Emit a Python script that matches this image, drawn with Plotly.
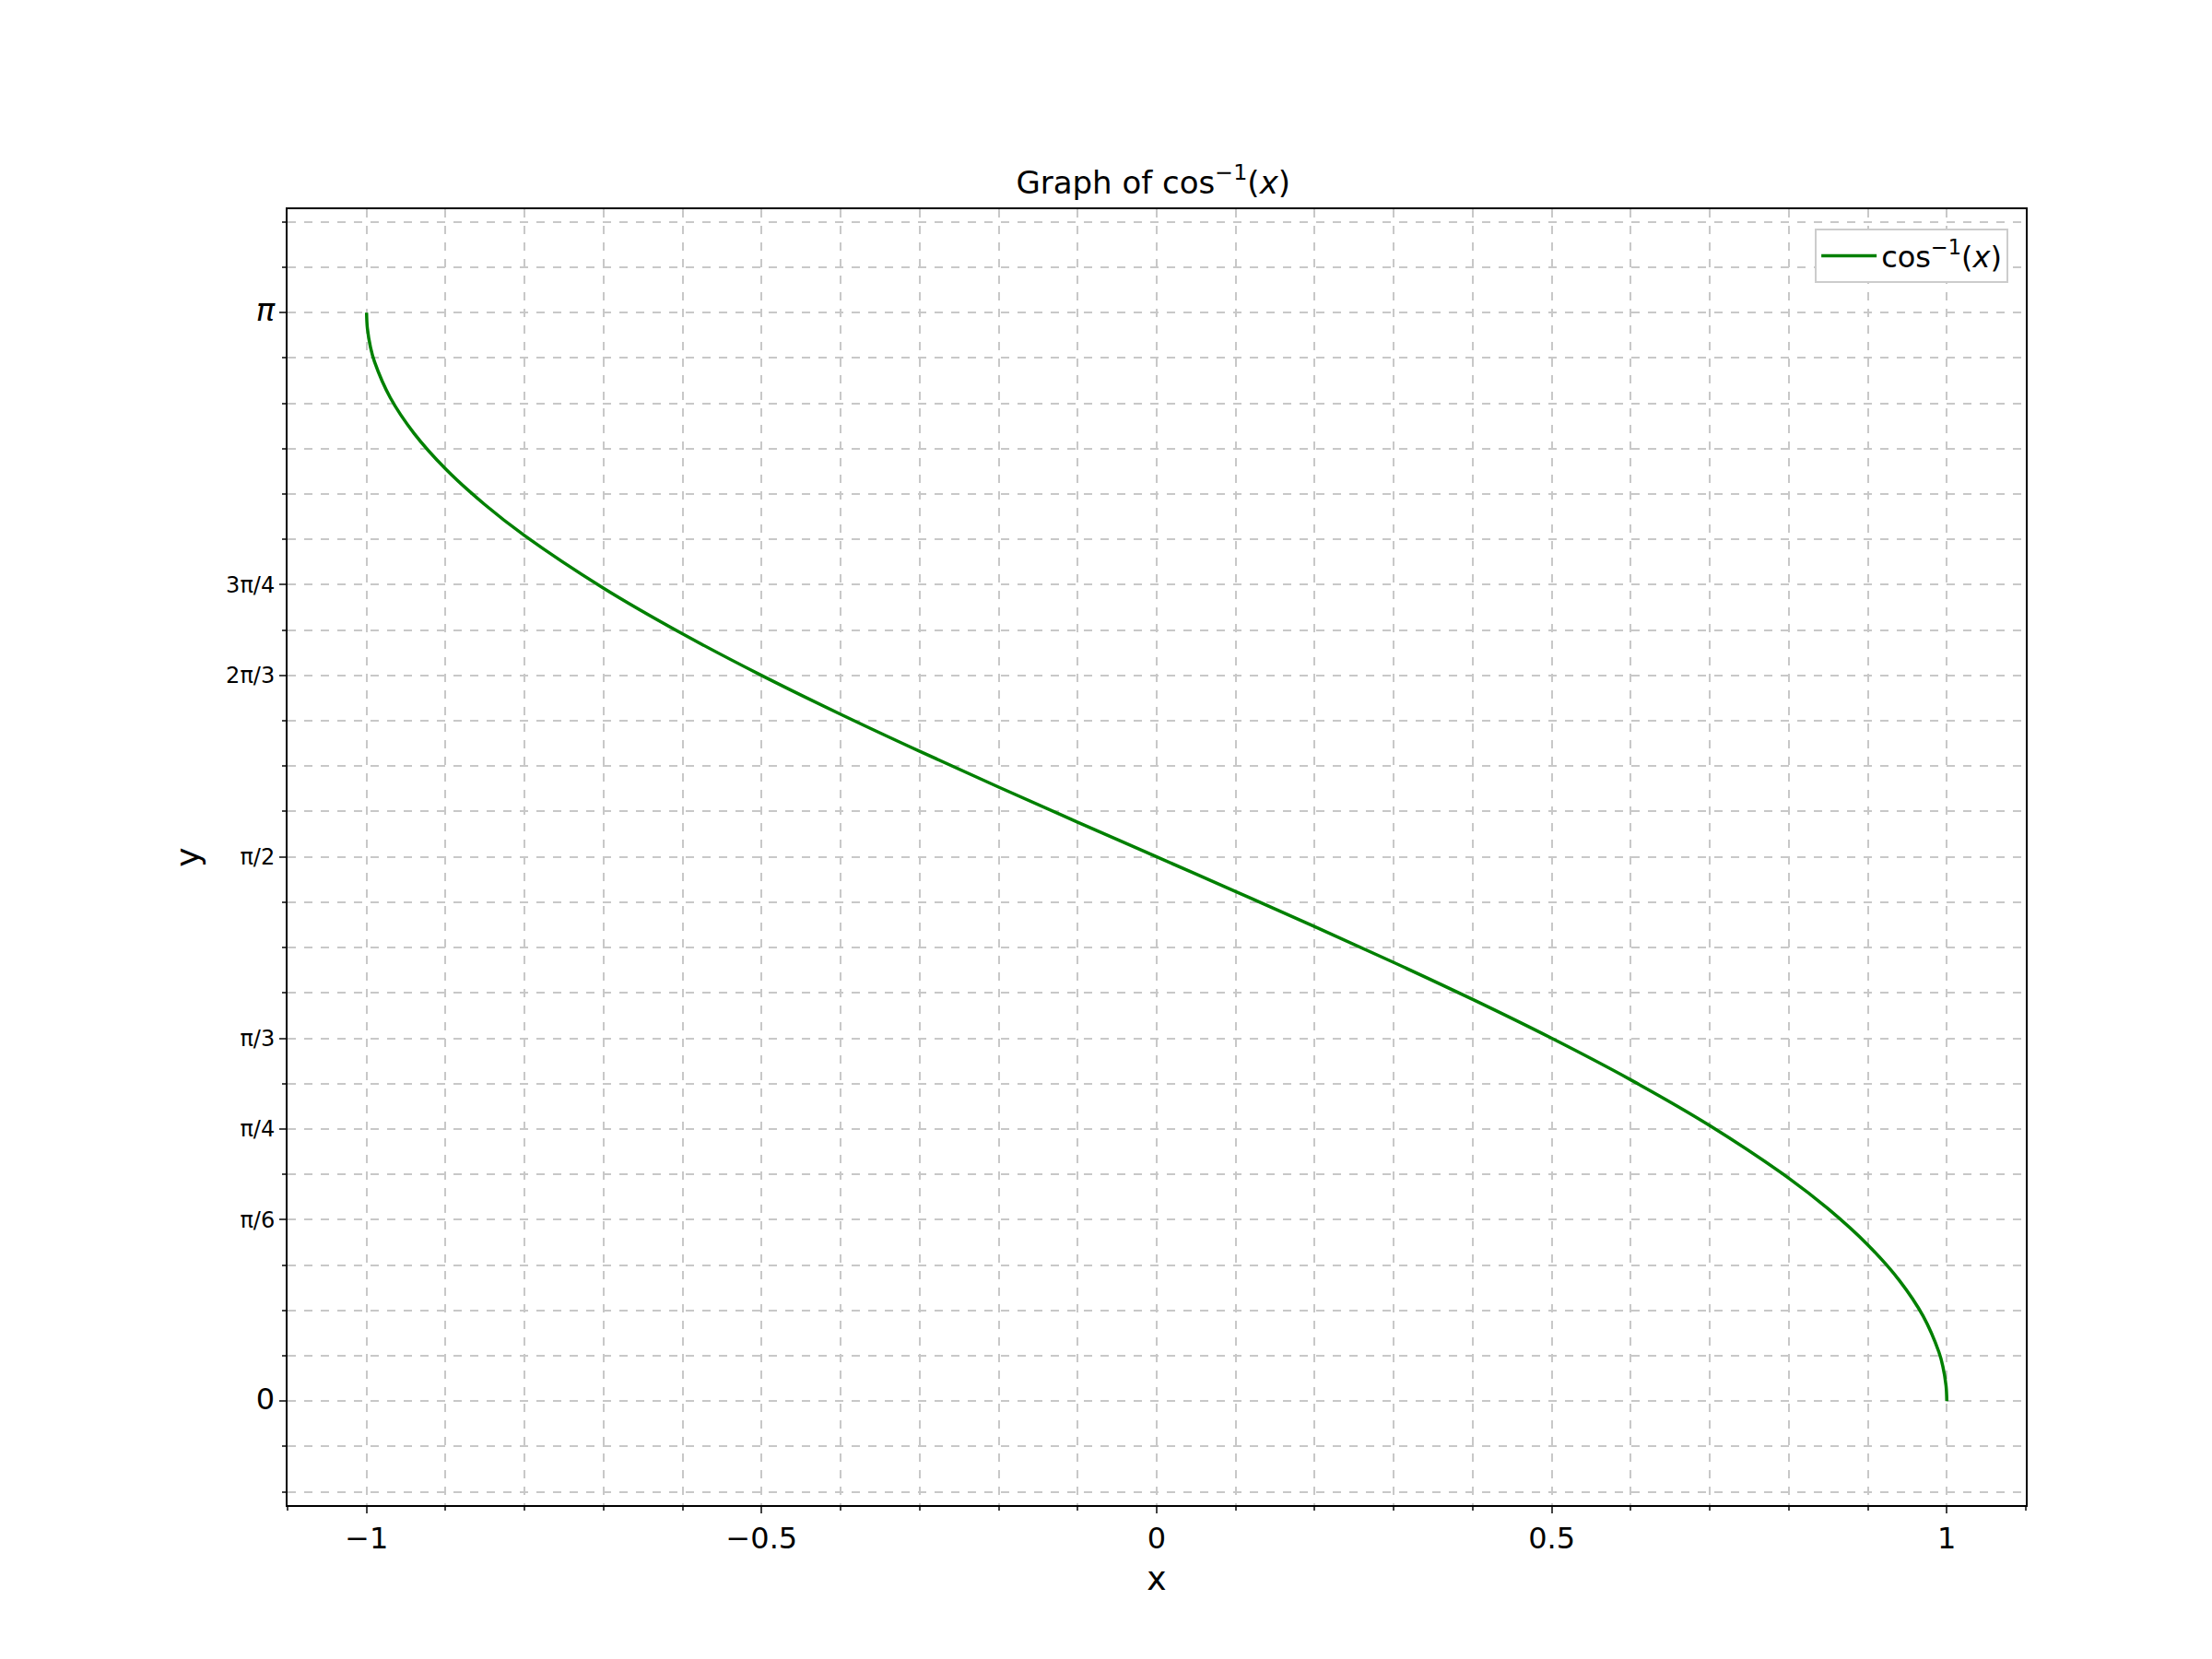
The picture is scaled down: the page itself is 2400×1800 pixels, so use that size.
import plotly.graph_objects as go
import math

x_vals = [-1.0, -0.999, -0.995, -0.99, -0.97, -0.94, -0.9, -0.85, -0.8, -0.7, -0.6, -0.5,
          -0.4, -0.3, -0.2, -0.1, 0.0, 0.1, 0.2, 0.3, 0.4, 0.5, 0.6, 0.7, 0.8, 0.85,
          0.9, 0.94, 0.97, 0.99, 0.995, 0.999, 1.0]
y_vals = [3.1416, 3.0969, 3.0415, 3.0001, 2.8960, 2.7934, 2.6906, 2.5868, 2.4981, 2.3462,
          2.2143, 2.0944, 1.9823, 1.8755, 1.7722, 1.6710, 1.5708, 1.4706, 1.3694, 1.2661,
          1.1593, 1.0472, 0.9273, 0.7954, 0.6435, 0.5548, 0.4510, 0.3482, 0.2456, 0.1415,
          0.1001, 0.0447, 0.0]

pi = math.pi
y_ticks = [0, pi / 6, pi / 4, pi / 3, pi / 2, 2 * pi / 3, 3 * pi / 4, pi]
y_labels = ["<span style='font-size:32px'>0</span>", "π/6", "π/4", "π/3", "π/2", "2π/3", "3π/4",
            "<span style='font-size:34px'><i>π</i></span>"]
x_ticks = [-1, -0.5, 0, 0.5, 1]
x_labels = ["−1", "−0.5", "0", "0.5", "1"]

fig = go.Figure()
fig.add_trace(go.Scatter(x=x_vals, y=y_vals, mode="lines", line=dict(color="green", width=3.5),
                         name="cos<sup>−1</sup>(<i>x</i>)", line_shape="spline"))

grid = dict(showgrid=True, gridcolor="#c8c8c8", griddash="dash", gridwidth=1.5)
fig.update_layout(
    width=2400, height=1800,
    paper_bgcolor="white", plot_bgcolor="white",
    margin=dict(l=304, r=210, t=219, b=175),
    font=dict(family="DejaVu Sans", size=30, color="black"),
    title=dict(text="Graph of cos<sup>−1</sup>(<i>x</i>)", x=0.518, xanchor="center",
               y=0.888, yanchor="bottom", font=dict(size=34)),
    showlegend=True,
    legend=dict(x=0.99, y=0.985, xanchor="right", yanchor="top", bordercolor="#cccccc",
                borderwidth=2, bgcolor="white", font=dict(size=32), itemwidth=60),
    xaxis=dict(range=[-1.1, 1.1], tickvals=x_ticks, ticktext=x_labels, ticks="outside",
               ticklen=7, tickwidth=1.5, showline=True, linecolor="black", linewidth=2,
               mirror=True, zeroline=False, title=dict(text="x", standoff=12),
               tickfont=dict(size=32),
               minor=dict(dtick=0.1, tick0=0, ticks="outside", ticklen=4, **grid), **grid),
    yaxis=dict(range=[-0.30, 3.44], tickvals=y_ticks, ticktext=y_labels, ticks="outside",
               ticklen=7, tickwidth=1.5, showline=True, linecolor="black", linewidth=2,
               mirror=True, zeroline=False, title=dict(text="y", standoff=18),
               tickfont=dict(size=24),
               minor=dict(dtick=pi / 24, tick0=0, ticks="outside", ticklen=4, **grid), **grid),
)
fig.write_html("out.html")
